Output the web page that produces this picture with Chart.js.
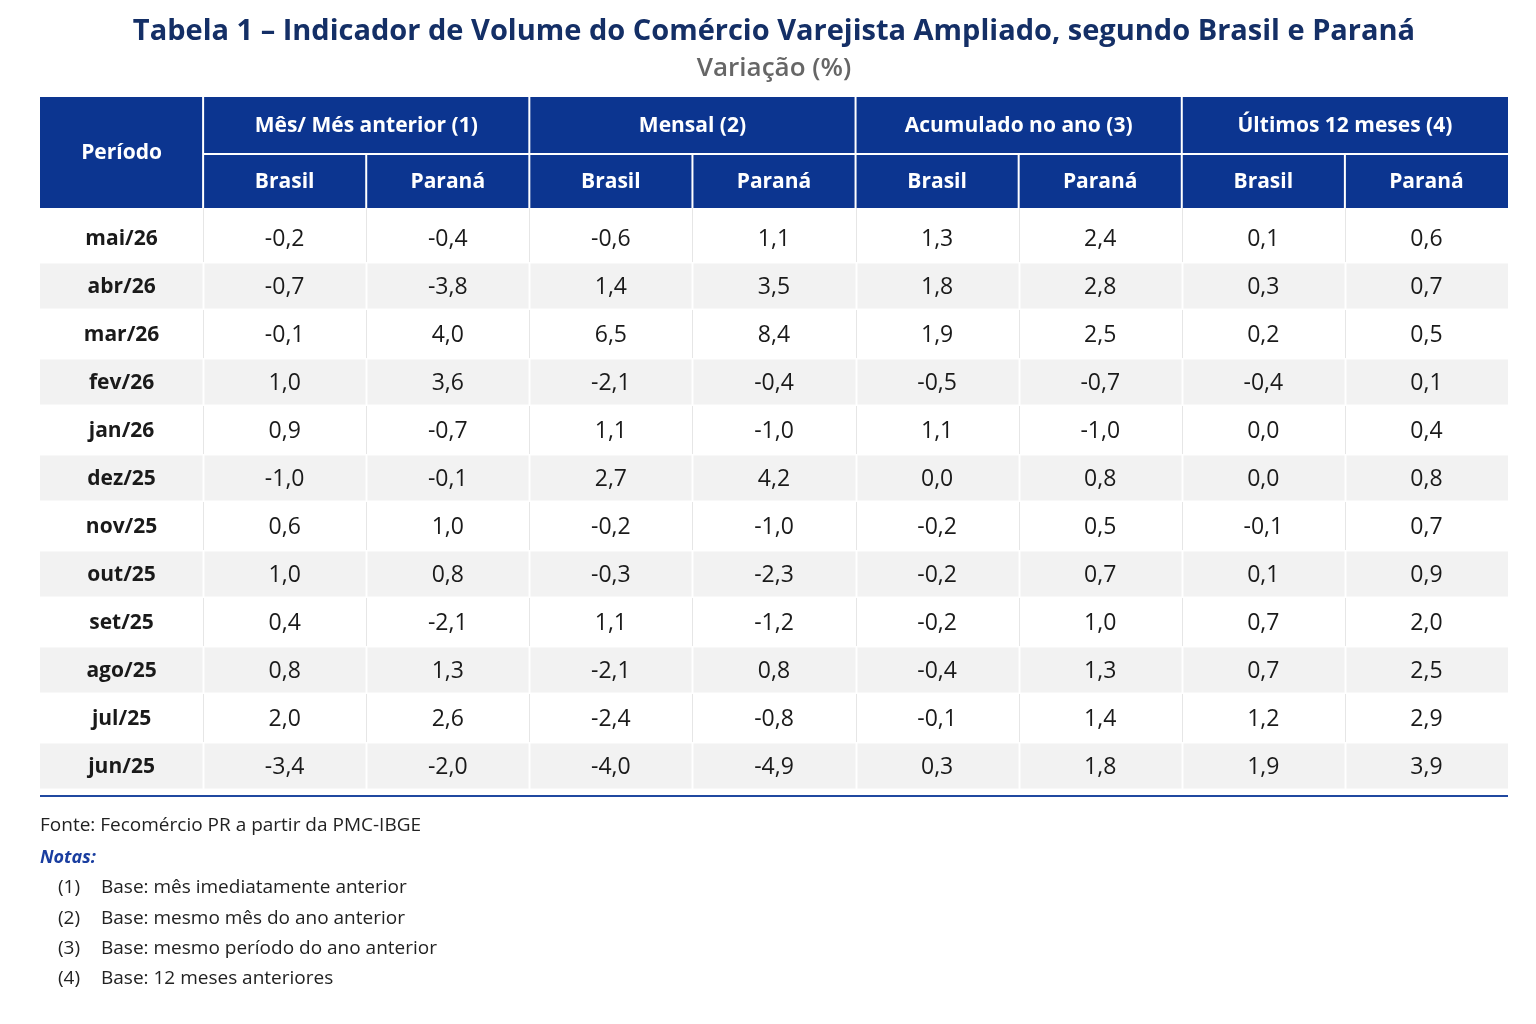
<!DOCTYPE html>
<html lang="pt-BR">
<head>
<meta charset="utf-8">
<title>Tabela 1 – Indicador de Volume do Comércio Varejista Ampliado</title>
<script src="https://cdn.jsdelivr.net/npm/chart.js@4.4.1/dist/chart.umd.min.js"></script>
<style>
  html, body { margin: 0; padding: 0; background: #ffffff; }
  #wrap { width: 1536px; height: 1024px; }
</style>
</head>
<body>
<div id="wrap"><canvas id="myChart" width="1536" height="1024"></canvas></div>
<script>
// Linhas da tabela (períodos) e colunas
const periods = ['mai/26', 'abr/26', 'mar/26', 'fev/26', 'jan/26', 'dez/25',
                 'nov/25', 'out/25', 'set/25', 'ago/25', 'jul/25', 'jun/25'];
const columnKeys = ['periodo', 'mesBR', 'mesPR', 'menBR', 'menPR', 'acuBR', 'acuPR', 'ultBR', 'ultPR'];
const groupLabels = ['Mês/ Més anterior (1)', 'Mensal (2)', 'Acumulado no ano (3)', 'Últimos 12 meses (4)'];
const subLabels = ['Brasil', 'Paraná'];

// Valores (%)
const mesBrasil    = [-0.2, -0.7, -0.1,  1.0,  0.9, -1.0,  0.6,  1.0,  0.4,  0.8,  2.0, -3.4];
const mesParana    = [-0.4, -3.8,  4.0,  3.6, -0.7, -0.1,  1.0,  0.8, -2.1,  1.3,  2.6, -2.0];
const mensalBrasil = [-0.6,  1.4,  6.5, -2.1,  1.1,  2.7, -0.2, -0.3,  1.1, -2.1, -2.4, -4.0];
const mensalParana = [ 1.1,  3.5,  8.4, -0.4, -1.0,  4.2, -1.0, -2.3, -1.2,  0.8, -0.8, -4.9];
const acumBrasil   = [ 1.3,  1.8,  1.9, -0.5,  1.1,  0.0, -0.2, -0.2, -0.2, -0.4, -0.1,  0.3];
const acumParana   = [ 2.4,  2.8,  2.5, -0.7, -1.0,  0.8,  0.5,  0.7,  1.0,  1.3,  1.4,  1.8];
const ult12Brasil  = [ 0.1,  0.3,  0.2, -0.4,  0.0,  0.0, -0.1,  0.1,  0.7,  0.7,  1.2,  1.9];
const ult12Parana  = [ 0.6,  0.7,  0.5,  0.1,  0.4,  0.8,  0.7,  0.9,  2.0,  2.5,  2.9,  3.9];

const sourceText = 'Fonte: Fecomércio PR a partir da PMC-IBGE';
const notesTitle = 'Notas:';
const notes = [
    ['(1)', 'Base: mês imediatamente anterior'],
    ['(2)', 'Base: mesmo mês do ano anterior'],
    ['(3)', 'Base: mesmo período do ano anterior'],
    ['(4)', 'Base: 12 meses anteriores']
];

const FONT = '"Open Sans", "Noto Sans", "DejaVu Sans", sans-serif';
const BLUE = '#0c3590';

function fmt(v) {
    return v.toFixed(1).replace('.', ',');
}

const series = [mesBrasil, mesParana, mensalBrasil, mensalParana, acumBrasil, acumParana, ult12Brasil, ult12Parana];

// um dataset por coluna; cada ponto é uma célula (sem marcador)
const datasets = [{
    label: columnKeys[0],
    data: periods.map(p => ({ x: columnKeys[0], y: p, text: p })),
    pointRadius: 0
}].concat(series.map((vals, i) => ({
    label: columnKeys[i + 1],
    data: periods.map((p, r) => ({ x: columnKeys[i + 1], y: p, text: fmt(vals[r]) })),
    pointRadius: 0
})));

/**
 * Desenha cabeçalho, faixas zebradas, divisórias e notas da tabela.
 */
const tablePlugin = {
    id: 'tablePlugin',
    beforeDatasetsDraw(chart) {
        const { ctx, chartArea, scales: { x, y } } = chart;
        const colW = x.getPixelForValue(1) - x.getPixelForValue(0);
        const rowH = y.getPixelForValue(1) - y.getPixelForValue(0);
        const left = chartArea.left, right = chartArea.right;
        const headBottom = chartArea.top - 6;
        const headTop = headBottom - 111;
        const headMid = headBottom - 54;
        const colEdge = c => x.getPixelForValue(c) - colW / 2;

        ctx.save();
        // cabeçalho azul
        ctx.fillStyle = BLUE;
        ctx.fillRect(left, headTop, right - left, headBottom - headTop);

        // linhas zebradas
        periods.forEach((p, r) => {
            if (r % 2 === 1) {
                const yc = y.getPixelForValue(r);
                ctx.fillStyle = '#f2f2f2';
                ctx.fillRect(left, yc - rowH / 2 + 1.5, right - left, rowH - 3);
            }
        });

        // divisórias verticais do corpo
        for (let c = 1; c < columnKeys.length; c++) {
            const xe = Math.round(colEdge(c)) + 0.5;
            periods.forEach((p, r) => {
                const yc = y.getPixelForValue(r);
                const top = r === 0 ? headBottom : yc - rowH / 2;
                ctx.beginPath();
                ctx.moveTo(xe, top);
                ctx.lineTo(xe, yc + rowH / 2);
                ctx.strokeStyle = r % 2 === 1 ? '#ffffff' : '#e6e6e6';
                ctx.lineWidth = r % 2 === 1 ? 2 : 1;
                ctx.stroke();
            });
        }

        // divisórias do cabeçalho
        ctx.strokeStyle = '#ffffff';
        ctx.lineWidth = 2;
        ctx.beginPath();
        ctx.moveTo(colEdge(1), headMid);
        ctx.lineTo(right, headMid);
        ctx.stroke();
        for (let c = 1; c < columnKeys.length; c++) {
            ctx.beginPath();
            ctx.moveTo(colEdge(c), c % 2 === 1 ? headTop : headMid);
            ctx.lineTo(colEdge(c), headBottom);
            ctx.stroke();
        }

        // textos do cabeçalho
        ctx.fillStyle = '#ffffff';
        ctx.textAlign = 'center';
        ctx.textBaseline = 'middle';
        ctx.font = 'bold 21px ' + FONT;
        ctx.fillText('Período', x.getPixelForValue(0), (headTop + headBottom) / 2 + 1);
        groupLabels.forEach((g, i) => {
            const cx = (colEdge(1 + i * 2) + colEdge(3 + i * 2)) / 2;
            ctx.fillText(g, cx, (headTop + headMid) / 2 + 1);
        });
        for (let c = 1; c < columnKeys.length; c++) {
            ctx.fillText(subLabels[(c - 1) % 2], x.getPixelForValue(c), (headMid + headBottom) / 2 + 1);
        }

        // linha inferior
        ctx.fillStyle = '#2048a0';
        ctx.fillRect(left, chartArea.bottom + 5, right - left, 2);

        // fonte e notas
        ctx.textAlign = 'left';
        ctx.textBaseline = 'middle';
        ctx.fillStyle = '#222222';
        ctx.font = '19px ' + FONT;
        ctx.fillText(sourceText, left, chartArea.bottom + 36);
        ctx.fillStyle = '#1a3ea0';
        ctx.font = 'italic bold 18px ' + FONT;
        ctx.fillText(notesTitle, left, chartArea.bottom + 68);
        ctx.fillStyle = '#222222';
        ctx.font = '19px ' + FONT;
        notes.forEach((n, i) => {
            const yy = chartArea.bottom + 98 + i * 30.3;
            ctx.fillText(n[0], left + 18, yy);
            ctx.fillText(n[1], left + 61, yy);
        });
        ctx.restore();
    },
    afterDatasetsDraw(chart) {
        const { ctx } = chart;
        ctx.save();
        ctx.textAlign = 'center';
        ctx.textBaseline = 'middle';
        ctx.fillStyle = '#1a1a1a';
        chart.data.datasets.forEach((ds, i) => {
            const meta = chart.getDatasetMeta(i);
            ctx.font = (i === 0 ? 'bold 21px ' : '23px ') + FONT;
            meta.data.forEach((pt, j) => {
                ctx.fillText(ds.data[j].text, pt.x, pt.y + 1);
            });
        });
        ctx.restore();
    }
};

function initChart() {
    const ctx = document.getElementById('myChart').getContext('2d');
    new Chart(ctx, {
        type: 'scatter',
        data: { datasets: datasets },
        options: {
            responsive: false,
            animation: false,
            events: [],
            layout: {
                padding: { left: 40, right: 28, top: 0, bottom: 234 }
            },
            scales: {
                x: { type: 'category', labels: columnKeys, offset: true, display: false },
                y: { type: 'category', labels: periods, offset: true, display: false }
            },
            plugins: {
                legend: { display: false },
                tooltip: { enabled: false },
                title: {
                    display: true,
                    text: 'Tabela 1 – Indicador de Volume do Comércio Varejista Ampliado, segundo Brasil e Paraná',
                    color: '#142f66',
                    font: { family: FONT, size: 29, weight: 'bold' },
                    padding: { top: 14, bottom: 0 }
                },
                subtitle: {
                    display: true,
                    text: 'Variação (%)',
                    color: '#666666',
                    font: { family: FONT, size: 26, weight: '600' },
                    padding: { top: 4, bottom: 130 }
                }
            }
        },
        plugins: [tablePlugin]
    });
}

initChart();
</script>
</body>
</html>
